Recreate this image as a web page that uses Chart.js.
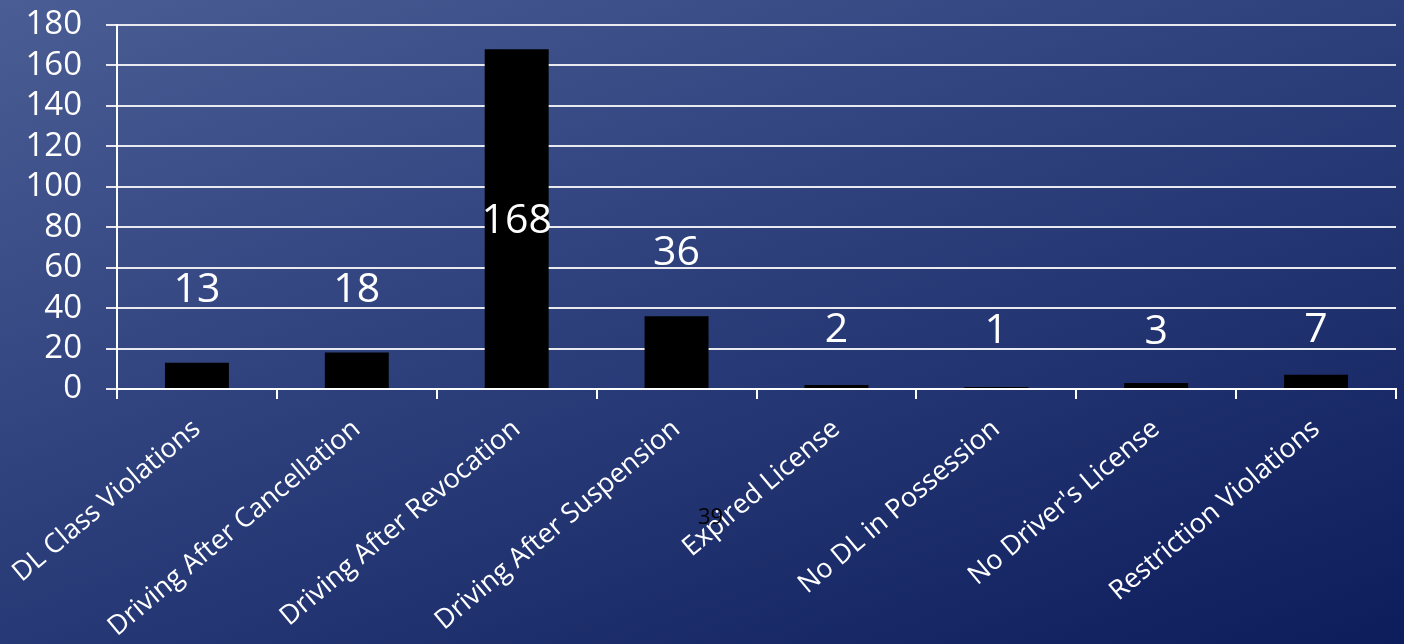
<!doctype html>
<html lang="en">
  <head>
    <meta charset="utf-8">
    <title>Driver License Violations</title>
    <style>
      * {
        margin: 0;
        padding: 0;
      }
      body {
        width: 1404px;
        height: 644px;
        overflow: hidden;
        background: linear-gradient(160deg, #4a5d94 0%, #2d407c 45%, #0d1c5b 100%);
        position: relative;
        font-family: "Open Sans", sans-serif;
      }
      .chartBox {
        position: absolute;
        left: 0;
        top: 0;
        width: 1404px;
        height: 644px;
      }
      .slideNum {
        position: absolute;
        left: 698px;
        top: 500px;
        font-size: 22px;
        color: #000;
      }
    </style>
  </head>
  <body>
    <div class="chartBox">
      <canvas id="myChart" width="1404" height="644"></canvas>
    </div>
    <div class="slideNum">39</div>

    <script src="https://cdn.jsdelivr.net/npm/chart.js"></script>
    <script>
    // data
    const categories = ['DL Class Violations', 'Driving After Cancellation', 'Driving After Revocation',
      'Driving After Suspension', 'Expired License', 'No DL in Possession', "No Driver's License",
      'Restriction Violations'];
    const counts = [13, 18, 168, 36, 2, 1, 3, 7];
    // where each value label sits, in axis units (as in the original slide)
    const labelAt = [49, 49, 83, 67, 29, 28.5, 28, 29];
    const yTicks = [0, 20, 40, 60, 80, 100, 120, 140, 160, 180];

    // value labels
    const valueLabels = {
      id: 'valueLabels',
      afterDatasetsDraw(chart) {
        const ctx = chart.ctx;
        const meta = chart.getDatasetMeta(0);
        const y = chart.scales.y;
        ctx.save();
        ctx.fillStyle = '#ffffff';
        ctx.font = '41px "Open Sans"';
        ctx.textAlign = 'center';
        ctx.textBaseline = 'middle';
        meta.data.forEach((bar, i) => {
          ctx.fillText(String(counts[i]), bar.x, y.getPixelForValue(labelAt[i]));
        });
        ctx.restore();
      }
    };

    const data = {
      labels: categories,
      datasets: [{
        data: counts,
        backgroundColor: '#000000',
        borderWidth: 0,
        barPercentage: 0.4,
        categoryPercentage: 1
      }]
    };

    const config = {
      type: 'bar',
      data,
      options: {
        responsive: false,
        animation: false,
        layout: { padding: { top: 25, right: 8, left: 0, bottom: 0 } },
        plugins: {
          legend: { display: false },
          tooltip: { enabled: false }
        },
        scales: {
          x: {
            afterFit(scale) {
              scale.height = 255;
              scale.paddingLeft = 0;
              scale.paddingRight = 0;
            },
            border: { color: '#ffffff', width: 2 },
            grid: {
              offset: true,
              drawOnChartArea: false,
              color: '#ffffff',
              lineWidth: 2,
              tickLength: 10
            },
            ticks: {
              color: '#ffffff',
              font: { family: 'Open Sans', size: 27 },
              minRotation: 40,
              maxRotation: 40,
              autoSkip: false,
              padding: 14
            }
          },
          y: {
            min: 0,
            max: 180,
            afterFit(scale) {
              scale.width = 117;
              scale.paddingTop = 0;
              scale.paddingBottom = 0;
            },
            afterBuildTicks(scale) { scale.ticks = yTicks.map(v => ({ value: v })); },
            border: { color: '#ffffff', width: 2 },
            grid: {
              color: '#e8eaf0',
              lineWidth: 2,
              tickLength: 11
            },
            ticks: {
              color: '#ffffff',
              font: { family: 'Open Sans', size: 33 },
              autoSkip: false,
              padding: 24
            }
          }
        }
      },
      plugins: [valueLabels]
    };

    const myChart = new Chart(document.getElementById('myChart'), config);
    </script>
  </body>
</html>
